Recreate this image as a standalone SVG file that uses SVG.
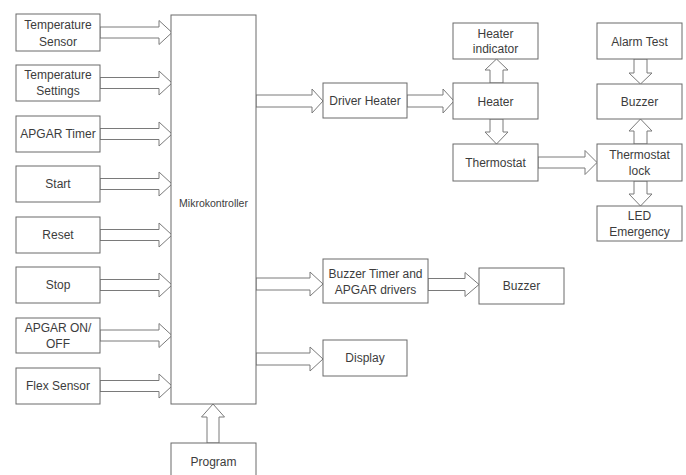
<svg xmlns="http://www.w3.org/2000/svg" width="686" height="475" viewBox="0 0 686 475">
<style>
.box{fill:#fff;stroke:#6a6a6a;stroke-width:1}
.arr{fill:#fff;stroke:#7a7a7a;stroke-width:1;stroke-linejoin:miter}
text{font-family:"Liberation Sans",Arial,sans-serif;font-size:12px;fill:#3c3c3c;text-anchor:middle}
.small{font-size:10.5px}
</style>
<rect width="686" height="475" fill="#fff"/>
<g id="connectors">
<polygon class="arr" points="100,27 159,27 159,20.5 172,32.5 159,44.5 159,38 100,38"/>
<polygon class="arr" points="100,77.5 159,77.5 159,71 172,83 159,95 159,88.5 100,88.5"/>
<polygon class="arr" points="100,128.5 159,128.5 159,122 172,134 159,146 159,139.5 100,139.5"/>
<polygon class="arr" points="100,178.5 159,178.5 159,172 172,184 159,196 159,189.5 100,189.5"/>
<polygon class="arr" points="100,229.5 159,229.5 159,223 172,235 159,247 159,240.5 100,240.5"/>
<polygon class="arr" points="100,279.5 159,279.5 159,273 172,285 159,297 159,290.5 100,290.5"/>
<polygon class="arr" points="100,330 159,330 159,323.5 172,335.5 159,347.5 159,341 100,341"/>
<polygon class="arr" points="100,380.5 159,380.5 159,374 172,386 159,398 159,391.5 100,391.5"/>
<polygon class="arr" points="207,443 207,417 201.5,417 213,404 224.5,417 219,417 219,443"/>
<polygon class="arr" points="256,95 312,95 312,89 323,101 312,113 312,107 256,107"/>
<polygon class="arr" points="407,95 443,95 443,89 454,101 443,113 443,107 407,107"/>
<polygon class="arr" points="256,278 310,278 310,272 323,284 310,296 310,290 256,290"/>
<polygon class="arr" points="428,278.5 465,278.5 465,272.5 479,284.5 465,296.5 465,290.5 428,290.5"/>
<polygon class="arr" points="256,353 310,353 310,347 323,359 310,371 310,365 256,365"/>
<polygon class="arr" points="538,157 585,157 585,150.5 597,162.5 585,174.5 585,168 538,168"/>
<polygon class="arr" points="490,83 490,70 485,70 496.5,59 508,70 503,70 503,83"/>
<polygon class="arr" points="490,119 490,132 485,132 496.5,144 508,132 503,132 503,119"/>
<polygon class="arr" points="634,59 634,73 629,73 640.5,84 652,73 647,73 647,59"/>
<polygon class="arr" points="634,144 634,131 629,131 640.5,119 652,131 647,131 647,144"/>
<polygon class="arr" points="634,181 634,194 629,194 640.5,206 652,194 647,194 647,181"/>
</g>
<g id="temp-sensor"><rect class="box" x="16" y="14" width="84" height="37"/><text x="58" y="29">Temperature</text><text x="58" y="46">Sensor</text></g>
<g id="temp-settings"><rect class="box" x="16" y="65" width="84" height="36"/><text x="58" y="79">Temperature</text><text x="58" y="95">Settings</text></g>
<g id="apgar-timer"><rect class="box" x="16" y="116" width="84" height="36"/><text x="58" y="138">APGAR Timer</text></g>
<g id="start"><rect class="box" x="16" y="166" width="84" height="36"/><text x="58" y="188">Start</text></g>
<g id="reset"><rect class="box" x="16" y="217" width="84" height="36"/><text x="58" y="239">Reset</text></g>
<g id="stop"><rect class="box" x="16" y="267" width="84" height="36"/><text x="58" y="289">Stop</text></g>
<g id="apgar-onoff"><rect class="box" x="16" y="318" width="84" height="35"/><text x="58" y="332">APGAR ON/</text><text x="58" y="348">OFF</text></g>
<g id="flex-sensor"><rect class="box" x="16" y="368" width="84" height="36"/><text x="58" y="390">Flex Sensor</text></g>
<g id="mikrokontroller"><rect class="box" x="171" y="15" width="85" height="389"/><text class="small" x="213.5" y="207">Mikrokontroller</text></g>
<g id="program"><rect class="box" x="171" y="443" width="85" height="40"/><text x="213.5" y="466">Program</text></g>
<g id="driver-heater"><rect class="box" x="323" y="83" width="84" height="35"/><text x="365" y="105">Driver Heater</text></g>
<g id="heater-indicator"><rect class="box" x="453" y="23" width="85" height="36"/><text x="495.5" y="38">Heater</text><text x="495.5" y="53">indicator</text></g>
<g id="heater"><rect class="box" x="453" y="83" width="85" height="36"/><text x="495.5" y="106">Heater</text></g>
<g id="thermostat"><rect class="box" x="453" y="144" width="85" height="37"/><text x="495.5" y="167">Thermostat</text></g>
<g id="alarm-test"><rect class="box" x="597" y="23" width="85" height="36"/><text x="639.5" y="46">Alarm Test</text></g>
<g id="buzzer-top"><rect class="box" x="597" y="84" width="85" height="35"/><text x="639.5" y="106">Buzzer</text></g>
<g id="thermostat-lock"><rect class="box" x="597" y="144" width="85" height="37"/><text x="639.5" y="159">Thermostat</text><text x="639.5" y="175">lock</text></g>
<g id="led-emergency"><rect class="box" x="597" y="206" width="85" height="35"/><text x="639.5" y="220">LED</text><text x="639.5" y="236">Emergency</text></g>
<g id="buzzer-timer"><rect class="box" x="323" y="259" width="105" height="44"/><text x="375.5" y="278">Buzzer Timer and</text><text x="375.5" y="294">APGAR drivers</text></g>
<g id="buzzer-bottom"><rect class="box" x="479" y="268" width="85" height="36"/><text x="521.5" y="290">Buzzer</text></g>
<g id="display"><rect class="box" x="323" y="340" width="84" height="36"/><text x="365" y="362">Display</text></g>
</svg>
